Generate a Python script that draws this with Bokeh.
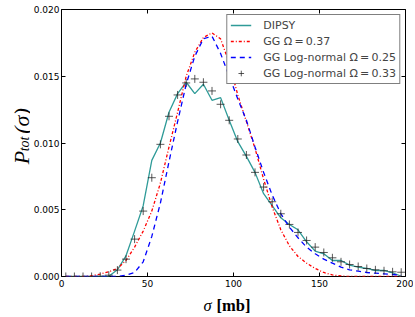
import math
from bokeh.plotting import figure
from bokeh.layouts import row, column
from bokeh.models import (Range1d, FixedTicker, PrintfTickFormatter, LinearAxis,
                          Legend, LegendItem, ColumnDataSource, CustomJSTickFormatter)
from bokeh.core.properties import value
from bokeh.embed import file_html
from bokeh.resources import INLINE

sigma = [2.5, 7.5, 12.5, 17.5, 22.5, 27.5, 32.5, 37.5, 42.5, 47.5,
         52.5, 57.5, 62.5, 67.5, 72.5, 77.5, 82.5, 87.5, 92.5, 97.5,
         102.5, 107.5, 112.5, 117.5, 122.5, 127.5, 132.5, 137.5, 142.5, 147.5,
         152.5, 157.5, 162.5, 167.5, 172.5, 177.5, 182.5, 187.5, 192.5, 197.5]

dipsy = [0.0, 0.0, 0.0, 0.0, 0.0, 0.00002, 0.0005, 0.00155, 0.0034, 0.0053,
         0.0087, 0.0100, 0.0123, 0.0137, 0.01455, 0.0137, 0.0144, 0.0132, 0.0134, 0.0117,
         0.0101, 0.0090, 0.0078, 0.0062, 0.0053, 0.0044, 0.0039, 0.0035, 0.0026, 0.0019,
         0.0017, 0.0012, 0.0012, 0.00085, 0.0007, 0.0006, 0.00045, 0.00045, 0.00028, 0.00002]

gg_037 = [0.0, 0.0, 0.0, 0.00005, 0.00018, 0.00035, 0.0006, 0.0012, 0.0022, 0.0034,
          0.0049, 0.0070, 0.0097, 0.0123, 0.0150, 0.0168, 0.0179, 0.01825, 0.0178, 0.0160,
          0.0136, 0.0116, 0.0096, 0.0073, 0.0052, 0.0035, 0.0023, 0.0015, 0.0010, 0.0006,
          0.0003, 0.00012, 0.00004, 0.0, 0.0, 0.0, 0.0, 0.0, 0.0, 0.0]

ln_025 = [0.0, 0.0, 0.0, 0.0, 0.0, 0.0, 0.0, 0.0001, 0.0003, 0.0011,
          0.0030, 0.0055, 0.0086, 0.0116, 0.0144, 0.0165, 0.0178, 0.0180, 0.0167, 0.0150,
          0.0133, 0.0117, 0.0097, 0.0078, 0.0061, 0.0047, 0.0037, 0.0029, 0.0022, 0.0017,
          0.0013, 0.0010, 0.0007, 0.0005, 0.0004, 0.0003, 0.00025, 0.0002, 0.00015, 0.0001]

ln_033 = [0.0, 0.0, 0.0, 0.0, 0.00002, 0.0001, 0.00048, 0.0013, 0.0028, 0.0049,
          0.0074, 0.0099, 0.0120, 0.0136, 0.0145, 0.0148, 0.01455, 0.0139, 0.0129, 0.0117,
          0.0103, 0.0091, 0.0078, 0.0067, 0.0056, 0.0047, 0.0039, 0.0033, 0.0027, 0.0022,
          0.0018, 0.0014, 0.0011, 0.0009, 0.00075, 0.0006, 0.0005, 0.00043, 0.00035, 0.00032]

x_ticks = [0, 50, 100, 150, 200]
y_ticks = [0.0, 0.005, 0.010, 0.015, 0.020]

labels = ["DIPSY", "GG \u03a9\u2009=\u20090.37", "GG Log-normal \u03a9\u2009=\u20090.25",
          "GG Log-normal \u03a9\u2009=\u20090.33"]

SERIF = "Liberation Serif"
TICK_FONT = "DejaVu Sans"

src = ColumnDataSource(dict(sigma=sigma, dipsy=dipsy, gg=gg_037, ln25=ln_025, ln33=ln_033))

YL_W = 30
P_LEFT, P_RIGHT, P_TOP, P_BOTTOM = 28, 8, 9, 14
FW, FH = 344, 267
P_H = P_TOP + FH + P_BOTTOM          # 290
TOTAL_W = YL_W + P_LEFT + FW + P_RIGHT
XL_H = 27

# ---------------- main plot ----------------
p = figure(frame_width=FW, frame_height=FH, output_backend="svg", toolbar_location=None,
           x_range=Range1d(0, 200), y_range=Range1d(0, 0.020),
           min_border_left=P_LEFT, min_border_right=P_RIGHT,
           min_border_top=P_TOP, min_border_bottom=P_BOTTOM)
p.background_fill_color = "white"
p.border_fill_color = "white"
p.outline_line_color = "black"
p.outline_line_width = 1
p.outline_line_alpha = 1
p.xgrid.visible = False
p.ygrid.visible = False

for ax in (p.xaxis[0], p.yaxis[0]):
    ax.axis_line_color = None
    ax.major_tick_in = 4
    ax.major_tick_out = 0
    ax.minor_tick_line_color = None
    ax.major_tick_line_color = "black"
    ax.major_label_text_font = TICK_FONT
    ax.major_label_text_font_size = "9px"
    ax.major_label_text_color = "black"
p.xaxis[0].major_label_standoff = 3
p.yaxis[0].major_label_standoff = 2
p.xaxis[0].ticker = FixedTicker(ticks=x_ticks)
p.yaxis[0].ticker = FixedTicker(ticks=y_ticks)
p.yaxis[0].formatter = PrintfTickFormatter(format="%.3f")

blank = CustomJSTickFormatter(code="return ''")
top = LinearAxis(ticker=FixedTicker(ticks=x_ticks), formatter=blank,
                 major_label_text_font_size="1px",
                 major_tick_in=4, major_tick_out=0, axis_line_color=None,
                 minor_tick_line_color=None, major_label_standoff=0)
right = LinearAxis(ticker=FixedTicker(ticks=y_ticks), formatter=blank,
                   major_label_text_font_size="1px",
                   major_tick_in=4, major_tick_out=0, axis_line_color=None,
                   minor_tick_line_color=None, major_label_standoff=0)
p.add_layout(top, "above")
p.add_layout(right, "right")

r1 = p.line("sigma", "dipsy", source=src, line_color="#2f9b98", line_width=1.3)
r2 = p.line("sigma", "gg", source=src, line_color="#ff0000", line_width=1.3,
            line_dash="3 2 1 2")
r3 = p.line("sigma", "ln25", source=src, line_color="#0000ff", line_width=1.3,
            line_dash="5 4")
r4 = p.scatter("sigma", "ln33", source=src, marker="cross", size=8,
               line_color="#222222", line_alpha=0.75, line_width=1)

legend = Legend(items=[LegendItem(label=labels[0], renderers=[r1]),
                       LegendItem(label=labels[1], renderers=[r2]),
                       LegendItem(label=labels[2], renderers=[r3]),
                       LegendItem(label=labels[3], renderers=[r4])],
                location="top_right", margin=5, padding=3, spacing=2,
                glyph_width=21, glyph_height=14, label_height=14, label_standoff=12,
                label_text_font=TICK_FONT, label_text_font_size="11px",
                border_line_color="black", border_line_width=1,
                background_fill_alpha=1)
p.add_layout(legend)

# ---------------- y-axis label panel ----------------
yl = figure(width=YL_W, height=P_H, output_backend="svg", toolbar_location=None,
            x_range=Range1d(0, YL_W), y_range=Range1d(0, P_H),
            x_axis_type=None, y_axis_type=None, min_border=0)
yl.outline_line_color = None
yl.xgrid.visible = False
yl.ygrid.visible = False
ylab = ColumnDataSource(dict(x=[21, 24, 21],
                             y=[P_H - 168, P_H - 154, P_H - 135],
                             t=["P", "tot", "(\u03c3)"],
                             s=["22px", "14px", "22px"]))
yl.text(x="x", y="y", text="t", source=ylab, angle=math.pi / 2,
        text_font=value(SERIF), text_font_style="italic", text_font_size="s",
        text_align="left", text_baseline="alphabetic", text_color="black")

# ---------------- x-axis label panel ----------------
xl = figure(width=TOTAL_W, height=XL_H, output_backend="svg", toolbar_location=None,
            x_range=Range1d(0, TOTAL_W), y_range=Range1d(0, XL_H),
            x_axis_type=None, y_axis_type=None, min_border=0)
xl.outline_line_color = None
xl.xgrid.visible = False
xl.ygrid.visible = False
base = XL_H - (305 - P_H)
xl.text(x=[203], y=[base], text=["\u03c3"], text_font=value(SERIF), text_font_style="italic",
        text_font_size="16.5px", text_align="left", text_baseline="alphabetic",
        text_color="black")
xl.text(x=[216], y=[base], text=["[mb]"], text_font=value(SERIF), text_font_style="bold",
        text_font_size="16.5px", text_align="left", text_baseline="alphabetic",
        text_color="black")

layout = column(row(yl, p, spacing=0), xl, spacing=0)
open("out.html", "w").write(file_html(layout, INLINE))
